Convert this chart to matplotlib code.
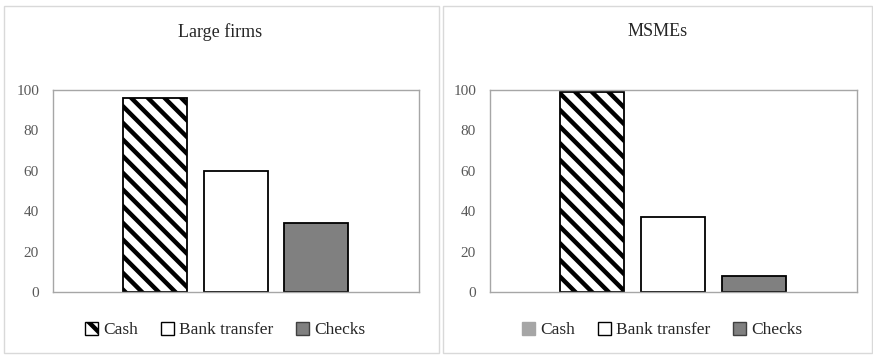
import matplotlib
matplotlib.use("Agg")
import matplotlib.pyplot as plt
from matplotlib.patches import Patch, Rectangle

plt.rcParams['font.family'] = ['Liberation Serif', 'DejaVu Serif']
plt.rcParams['hatch.linewidth'] = 3.2

categories = ['Cash', 'Bank transfer', 'Checks']
large_firms = [96, 60, 34]
msmes = [99, 37, 8]
panel_titles = ['Large firms', 'MSMEs']
yticks = [0, 20, 40, 60, 80, 100]

W, H = 873, 355
fig = plt.figure(figsize=(W / 100, H / 100), dpi=100)

# panel frames
for x0, x1 in [(4, 439), (443, 872)]:
    fig.patches.append(Rectangle((x0 / W, 1 - 353 / H), (x1 - x0) / W, 347 / H,
                                 transform=fig.transFigure, fill=False,
                                 edgecolor='#d9d9d9', linewidth=1))

ax_pos = [[53 / W, 1 - 292 / H, 366 / W, 202 / H],
          [490 / W, 1 - 292 / H, 367 / W, 202 / H]]
title_x = [220 / W, 658 / W]
legend_x = [225 / W, 662 / W]
styles = [dict(color='white', hatch='\\\\'),
          dict(color='white'),
          dict(color='#808080')]

for i, vals in enumerate([large_firms, msmes]):
    ax = fig.add_axes(ax_pos[i])
    for j, v in enumerate(vals):
        ax.bar(j, v, width=0.79, edgecolor='black', linewidth=1.3, **styles[j])
    ax.set_xlim(-1.26, 3.27)
    ax.set_ylim(0, 100)
    ax.set_yticks(yticks)
    ax.set_xticks([])
    ax.tick_params(axis='y', length=0, pad=10, labelsize=11, labelcolor='#595959')
    for s in ax.spines.values():
        s.set_color('#a6a6a6')
        s.set_linewidth(1)
    fig.text(title_x[i], 1 - 32 / H, panel_titles[i], ha='center', va='center',
             fontsize=13, color='#262626')

    if i == 0:
        cash_handle = Patch(facecolor='white', edgecolor='black', hatch='\\', linewidth=1)
    else:
        cash_handle = Patch(facecolor='#a6a6a6', edgecolor='#a6a6a6')
    handles = [cash_handle,
               Patch(facecolor='white', edgecolor='black', linewidth=1),
               Patch(facecolor='#808080', edgecolor='#404040', linewidth=1)]
    ax.legend(handles, categories, loc='center', bbox_to_anchor=(legend_x[i], 1 - 330 / H),
              bbox_transform=fig.transFigure, ncol=3, frameon=False, fontsize=12.5,
              handlelength=0.75, handleheight=0.75, handletextpad=0.3,
              columnspacing=1.3, labelcolor='#262626')

fig.savefig('out.png', dpi=100)
